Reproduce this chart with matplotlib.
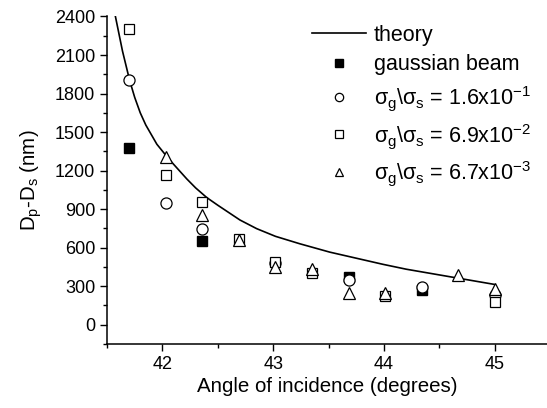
import matplotlib
matplotlib.use("Agg")
import matplotlib.pyplot as plt
from matplotlib.ticker import MultipleLocator

plt.rcParams['font.family'] = ['Liberation Sans', 'DejaVu Sans']
plt.rcParams['mathtext.fontset'] = 'custom'
plt.rcParams['mathtext.rm'] = 'Liberation Sans'
plt.rcParams['mathtext.it'] = 'Liberation Sans'

# theory curve
theory_x = [41.576, 41.64, 41.705, 41.75, 41.80, 41.85, 41.95, 42.03, 42.10, 42.22, 42.30, 42.40, 42.50,
            42.70, 42.85, 43.02, 43.24, 43.51, 43.99, 44.20, 44.67, 45.00]
theory_y = [2400, 2130, 1900, 1770, 1650, 1555, 1405, 1320, 1250, 1135, 1065, 990, 930,
            815, 748, 688, 630, 565, 470, 432, 362, 313]

# gaussian beam
gauss_x = [41.70, 42.36, 43.68, 44.34]
gauss_y = [1376, 650, 372, 268]

# sigma_g/sigma_s = 1.6e-1
circ_x = [41.70, 42.03, 42.36, 43.02, 43.68, 44.34, 45.00]
circ_y = [1903, 945, 748, 484, 350, 293, 230]

# sigma_g/sigma_s = 6.9e-2
sq_x = [41.70, 42.03, 42.36, 42.69, 43.02, 43.35, 44.01, 45.00]
sq_y = [2304, 1166, 959, 670, 490, 404, 223, 175]

# sigma_g/sigma_s = 6.7e-3
tri_x = [42.03, 42.36, 42.69, 43.02, 43.35, 43.68, 44.01, 44.67, 45.00]
tri_y = [1305, 851, 657, 452, 432, 249, 250, 385, 280]

fig = plt.figure(figsize=(5.47, 4.08), dpi=100)
ax = fig.add_axes([0.1956, 0.157, 0.8044, 0.8026])

ax.plot(theory_x, theory_y, color='black', lw=1.2, label='theory')
ax.plot(gauss_x, gauss_y, 's', ms=7, mfc='black', mec='black', label='gaussian beam')
ax.plot(circ_x, circ_y, 'o', ms=8, mfc='white', mec='black', mew=0.9,
        label=r'$\sigma_g\backslash\sigma_s$ = 1.6x10$^{-1}$')
ax.plot(sq_x, sq_y, 's', ms=7.5, mfc='white', mec='black', mew=0.9,
        label=r'$\sigma_g\backslash\sigma_s$ = 6.9x10$^{-2}$')
ax.plot(tri_x, tri_y, '^', ms=8.5, mfc='white', mec='black', mew=0.9,
        label=r'$\sigma_g\backslash\sigma_s$ = 6.7x10$^{-3}$')

ax.set_xlim(41.5, 45.47)
ax.set_ylim(-150, 2400)
ax.xaxis.set_major_locator(MultipleLocator(1))
ax.xaxis.set_minor_locator(MultipleLocator(0.5))
ax.yaxis.set_major_locator(MultipleLocator(300))
ax.yaxis.set_minor_locator(MultipleLocator(150))
ax.tick_params(which='major', direction='out', length=5, width=1, labelsize=13)
ax.tick_params(which='minor', direction='out', length=3, width=1)
ax.spines['top'].set_visible(False)
ax.spines['right'].set_visible(False)
for s in ['left', 'bottom']:
    ax.spines[s].set_linewidth(1.1)

ax.set_xlabel('Angle of incidence (degrees)', fontsize=14.8, labelpad=3)
ax.set_ylabel(r'D$_p$-D$_s$ (nm)', fontsize=14.8, labelpad=8)

ax.legend(loc='upper left', bbox_to_anchor=(0.467, 0.975), frameon=False, fontsize=15.5,
          handlelength=2.5, handletextpad=0.35, labelspacing=0.4, borderaxespad=0,
          borderpad=0, markerscale=0.75)

fig.savefig('out.png', dpi=100)
